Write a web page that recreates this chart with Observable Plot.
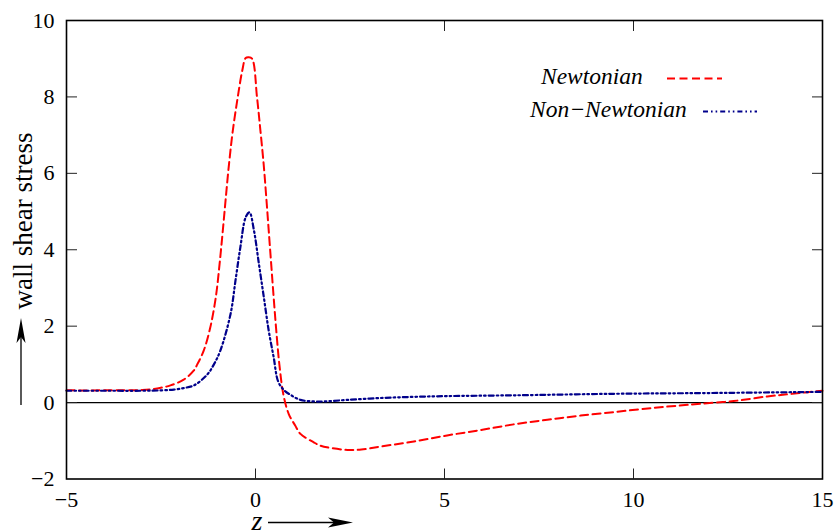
<!DOCTYPE html>
<html>
<head>
<meta charset="utf-8">
<script src="https://cdn.jsdelivr.net/npm/d3@7"></script>
<script src="https://cdn.jsdelivr.net/npm/@observablehq/plot@0.6"></script>
<style>
  html, body { margin: 0; padding: 0; background: #fff; }
  #chart svg { display: block; }
</style>
</head>
<body>
<div id="chart"></div>
<script>
// ---- data ----
const newtonianZ = [-5, -4, -3, -2.6, -2.25, -1.9, -1.63, -1.54, -1.37, -1.2, -1.05, -0.95, -0.865, -0.785, -0.70, -0.60, -0.47, -0.35, -0.26, -0.18, -0.09, 0.04, 0.13, 0.215, 0.285, 0.35, 0.415, 0.48, 0.55, 0.63, 0.74, 0.88, 1.05, 1.19, 1.54, 1.72, 2.0, 2.43, 2.8, 3.31, 4.19, 5.07, 5.95, 6.83, 7.72, 8.6, 9.57, 10.5, 11.2, 11.77, 12.65, 13.54, 14.2, 15];
const newtonianS = [0.32, 0.32, 0.33, 0.37, 0.45, 0.6, 0.84, 1.0, 1.36, 1.95, 2.76, 3.63, 4.5, 5.37, 6.25, 7.12, 7.99, 8.69, 9.02, 9.04, 9.0, 7.99, 7.12, 6.25, 5.37, 4.5, 3.63, 2.76, 1.88, 1.01, 0.2, -0.3, -0.6, -0.82, -1.04, -1.13, -1.19, -1.24, -1.23, -1.15, -1.02, -0.86, -0.72, -0.57, -0.45, -0.34, -0.24, -0.14, -0.08, -0.03, 0.04, 0.16, 0.23, 0.31];

const nonNewtonianZ = [-5, -4, -3, -2.5, -2.16, -1.9, -1.63, -1.28, -1.1, -0.93, -0.66, -0.53, -0.4, -0.26, -0.16, -0.04, 0.09, 0.22, 0.35, 0.48, 0.6, 0.75, 0.93, 1.19, 1.54, 1.8, 2.43, 3.31, 4.2, 5.07, 6.83, 9.48, 12, 15];
const nonNewtonianS = [0.31, 0.31, 0.31, 0.32, 0.34, 0.38, 0.45, 0.73, 1.0, 1.36, 2.32, 3.19, 4.07, 4.85, 4.98, 4.5, 3.63, 2.76, 1.88, 1.19, 0.55, 0.33, 0.2, 0.07, 0.03, 0.03, 0.07, 0.12, 0.15, 0.17, 0.19, 0.23, 0.25, 0.28];

const xTicks = [-5, 0, 5, 10, 15];
const yTicks = [-2, 0, 2, 4, 6, 8, 10];
const seriesNames = ["Newtonian", "Non\u2212Newtonian"];
const seriesColors = ["#ff0000", "#00008b"];
const seriesDashes = ["8,4.5", "5,3,1.6,3,1.6,3"];

// ---- build tables ----
const newtonian = newtonianZ.map((z, i) => ({z, s: newtonianS[i]}));
const nonNewtonian = nonNewtonianZ.map((z, i) => ({z, s: nonNewtonianS[i]}));

const W = 838, H = 532;
const mL = 66, mR = 16, mT = 20, mB = 53.5;
const fmt = d3.format("d");
const inner = (arr, lo, hi) => arr.filter(v => v !== lo && v !== hi);
const serif = "'Liberation Serif', 'Times New Roman', serif";

const plot = Plot.plot({
  width: W,
  height: H,
  marginLeft: mL,
  marginRight: mR,
  marginTop: mT,
  marginBottom: mB,
  style: {fontFamily: serif, fontSize: "22px", color: "#000", background: "#fff"},
  x: {domain: [-5, 15], label: null},
  y: {domain: [-2, 10], label: null},
  marks: [
    Plot.ruleY([0], {stroke: "#000", strokeWidth: 1.2}),
    Plot.line(newtonian, {x: "z", y: "s", stroke: seriesColors[0], strokeWidth: 2, strokeDasharray: seriesDashes[0], curve: "catmull-rom"}),
    Plot.line(nonNewtonian, {x: "z", y: "s", stroke: seriesColors[1], strokeWidth: 2.2, strokeDasharray: seriesDashes[1], curve: "catmull-rom"}),
    // tick labels
    Plot.axisX(xTicks, {anchor: "bottom", tickSize: 0, tickPadding: 12, tickFormat: fmt, label: null}),
    Plot.axisY(yTicks, {anchor: "left", tickSize: 0, tickPadding: 12, tickFormat: fmt, label: null}),
    // inward ticks (mirrored)
    Plot.axisX(inner(xTicks, -5, 15), {anchor: "bottom", tickSize: -10, text: null, label: null, stroke: "#222"}),
    Plot.axisX(inner(xTicks, -5, 15), {anchor: "top", tickSize: -10, text: null, label: null, stroke: "#222"}),
    Plot.axisY(inner(yTicks, -2, 10), {anchor: "left", tickSize: -11, text: null, label: null, stroke: "#222"}),
    Plot.axisY(inner(yTicks, -2, 10), {anchor: "right", tickSize: -11, text: null, label: null, stroke: "#222"}),
    Plot.frame({stroke: "#000", strokeWidth: 1.6})
  ]
});

document.getElementById("chart").appendChild(plot);

// ---- annotations: axis titles with arrows, and legend ----
const svg = d3.select(plot);
const g = svg.append("g").attr("font-family", serif).attr("fill", "#000");

// y title
g.append("text")
  .attr("transform", `translate(32, ${mT + 201}) rotate(-90)`)
  .attr("text-anchor", "middle")
  .attr("font-size", "27px")
  .text("wall shear stress");
// y arrow
g.append("line").attr("x1", 21).attr("x2", 21).attr("y1", 405).attr("y2", 335).attr("stroke", "#000").attr("stroke-width", 1.3);
g.append("path").attr("d", "M21,318 L16.5,343 L21,337 L25.5,343 Z").attr("fill", "#000");

// x title
g.append("text")
  .attr("x", 257).attr("y", 530)
  .attr("text-anchor", "middle")
  .attr("font-size", "28px")
  .attr("font-style", "italic")
  .text("z");
g.append("line").attr("x1", 268).attr("x2", 336).attr("y1", 522.5).attr("y2", 522.5).attr("stroke", "#000").attr("stroke-width", 1.3);
g.append("path").attr("d", "M353,522.5 L328,517.5 L334,522.5 L328,527.5 Z").attr("fill", "#000");

// legend
const legendRows = [
  {name: seriesNames[0], tx: 541, ty: 83.5, lx1: 667, lx2: 722, ly: 78.5},
  {name: seriesNames[1], tx: 530, ty: 117, lx1: 703, lx2: 757, ly: 111.5}
];
legendRows.forEach((r, i) => {
  g.append("text")
    .attr("x", r.tx).attr("y", r.ty)
    .attr("text-anchor", "start")
    .attr("font-size", "23.5px")
    .attr("font-style", "italic")
    .text(r.name);
  g.append("line")
    .attr("x1", r.lx1).attr("x2", r.lx2).attr("y1", r.ly).attr("y2", r.ly)
    .attr("stroke", seriesColors[i]).attr("stroke-width", i === 0 ? 2 : 2.2)
    .attr("stroke-dasharray", seriesDashes[i]);
});
</script>
</body>
</html>
